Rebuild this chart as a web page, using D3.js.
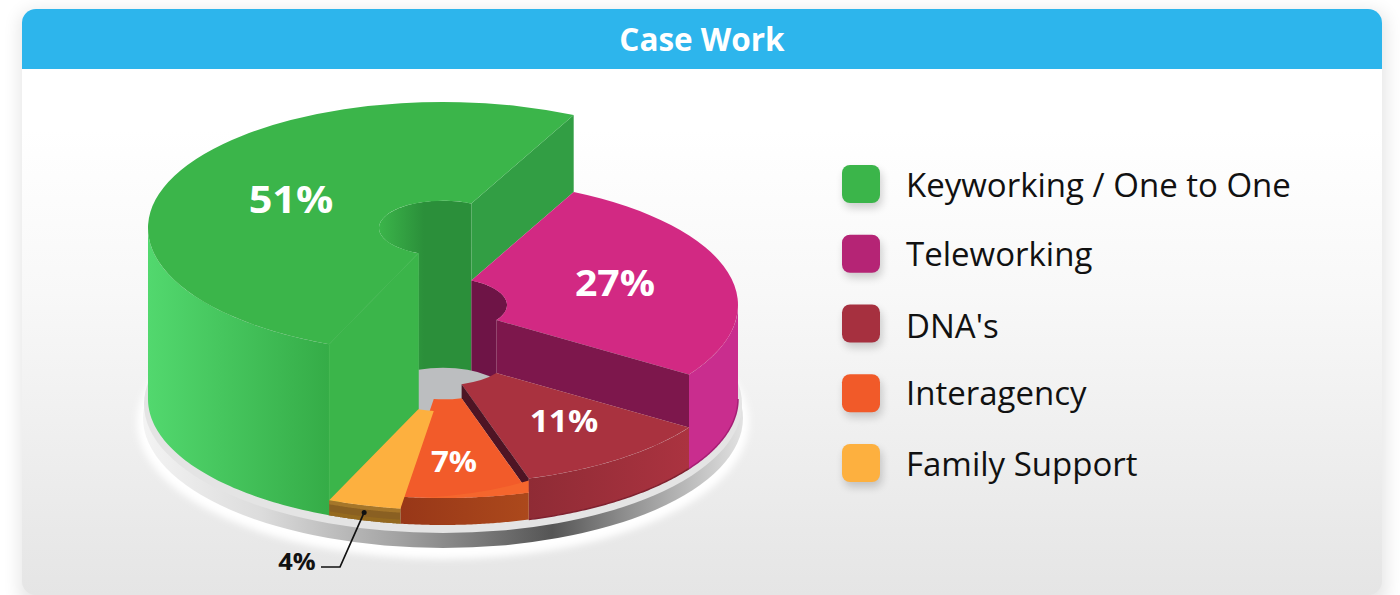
<!DOCTYPE html>
<html><head><meta charset="utf-8">
<script src="https://cdnjs.cloudflare.com/ajax/libs/d3/7.8.5/d3.min.js"></script>
<style>html,body{margin:0;padding:0;background:#fff;overflow:hidden}svg{display:block}text{font-family:"Open Sans",sans-serif}</style>
</head><body><svg id="c" width="1400" height="595"></svg>
<script>
const title = "Case Work";
const categories = ["Keyworking / One to One","Teleworking","DNA's","Interagency","Family Support"];
const values = [51,27,11,7,4];
const labels = ["51%","27%","11%","7%","4%"];
const legendColors = ["#3BB54A","#B52475","#A6303F","#F15A29","#FDB03F"];
const topColors = ["#3BB54A","#D22983","#A9323F","#F25B2A","#FDB03F"];
const wallColors = ["#329E44","#7D174C","#4E1424",null,null];
const sideStops = [["#52D86E","#35AC47"],["#C92D8E","#C92D8E"],["#8F2B35","#AB3340"],["#983718","#AC491C"],["#8A6022","#94681F"]];

const svg=d3.select("#c");
const defs=svg.append("defs");
const rad=d=>d*Math.PI/180;
const cx=443, baseY=399, R=295, r=64, tilt=0.4271;

const pie=d3.pie().sort(null).startAngle(rad(202.7)).endAngle(rad(562.7));
const arcs=pie(values);
const height=d3.scaleLinear().domain([4,7,11,27,51]).range([15,27,41,94,171]);
const topY=v=>baseY-height(v);
const px=(rad_,a)=>cx+rad_*Math.sin(a);
const py=(rad_,a,y)=>y-rad_*tilt*Math.cos(a);
const arcPts=(rad_,a0,a1,y)=>{const n=60;return d3.range(n+1).map(i=>{const a=a0+(a1-a0)*i/n;return [px(rad_,a),py(rad_,a,y)];});};
const line=d3.line();
const topArc=d3.arc().innerRadius(r).outerRadius(R);
function grad(id,stops,x1,x2){
  const g=defs.append("linearGradient").attr("id",id).attr("gradientUnits","userSpaceOnUse").attr("x1",x1).attr("x2",x2).attr("y1",0).attr("y2",0);
  stops.forEach(s=>g.append("stop").attr("offset",s[0]).attr("stop-color",s[1]));
}
const bg=defs.append("linearGradient").attr("id","cardBg").attr("gradientUnits","userSpaceOnUse").attr("x1",0).attr("x2",0).attr("y1",130).attr("y2",595);
[[0,"#ffffff"],[0.35,"#f8f8f8"],[1,"#e5e5e5"]].forEach(s=>bg.append("stop").attr("offset",s[0]).attr("stop-color",s[1]));
const blur=(id,sd)=>defs.append("filter").attr("id",id).attr("x","-30%").attr("y","-30%").attr("width","160%").attr("height","160%").append("feGaussianBlur").attr("stdDeviation",sd);
blur("b12",9);blur("b4",4);blur("b2",3.5);

const cardX=22,cardY=9,cardW=1360,cardH=596;
svg.append("rect").attr("x",cardX-2).attr("y",cardY+2).attr("width",cardW+6).attr("height",cardH).attr("rx",14).attr("fill","#000").attr("opacity",.1).attr("filter","url(#b12)");
svg.append("rect").attr("x",cardX).attr("y",cardY).attr("width",cardW).attr("height",cardH-10).attr("rx",14).attr("fill","url(#cardBg)");
svg.append("path").attr("fill","#2DB5EC").attr("d",`M${cardX},69V${cardY+14}a14,14 0 0 1 14,-14H${cardX+cardW-14}a14,14 0 0 1 14,14V69Z`);
svg.append("text").attr("x",702).attr("y",51).attr("text-anchor","middle").attr("fill","#fff").attr("font-weight",700).attr("font-size",31.5).text(title);

const ped=svg.append("g");
ped.append("ellipse").attr("cx",cx).attr("cy",422).attr("rx",306).attr("ry",137).attr("fill","#fff").attr("filter","url(#b2)");
grad("rim",[[0,"#f4f4f4"],[0.2,"#dcdcdc"],[0.42,"#a4a4a4"],[0.68,"#555"],[0.8,"#8e8e8e"],[1,"#e4e4e4"]],140,746);
ped.append("ellipse").attr("cx",cx).attr("cy",418).attr("rx",300).attr("ry",130).attr("fill","url(#rim)");
ped.append("ellipse").attr("cx",cx).attr("cy",404).attr("rx",299).attr("ry",129).attr("fill","#e4e4e4");

const holeY=baseY-4;
const g=svg.append("g");
const sidePath=(a0,a1,y)=>{
  const t=arcPts(R,a0,a1,y), b=arcPts(R,a1,a0,baseY);
  return line(t.concat(b))+"Z";
};
const [kw,tw,dn,ia,fs]=arcs;
const yOf=a=>topY(a.data);
const turn=2*Math.PI;

grad("s0",[[0,sideStops[0][0]],[1,sideStops[0][1]]],px(R,rad(270)),px(R,kw.startAngle));
g.append("path").attr("fill","url(#s0)").attr("d",sidePath(kw.startAngle,rad(270),yOf(kw)));

grad("hole0",[[0,"#3BB54A"],[1,"#2B8F3A"]],cx-r,cx-r+45);
g.append("path").attr("fill","url(#hole0)").attr("d",
  line(arcPts(r,kw.startAngle,kw.endAngle,yOf(kw)).concat([[px(r,kw.endAngle),holeY],[px(r,kw.startAngle),holeY]]))+"Z");
g.append("path").attr("fill","#6E1446").attr("d",
  line(arcPts(r,tw.startAngle,tw.endAngle,yOf(tw)).concat([[px(r,tw.endAngle),holeY],[px(r,tw.startAngle),holeY]]))+"Z");
g.append("ellipse").attr("cx",cx).attr("cy",holeY).attr("rx",r).attr("ry",r*tilt).attr("fill","#BCBEC0");

const radial=(a,yT,yB)=>line([[px(R,a),py(R,a,yT)],[px(R,a),py(R,a,yB)],[px(r,a),py(r,a,yB)],[px(r,a),py(r,a,yT)]])+"Z";
g.append("path").attr("fill",wallColors[0]).attr("d",radial(kw.endAngle,yOf(kw),yOf(tw)));
g.append("path").attr("fill",topColors[0]).attr("stroke",topColors[0]).attr("stroke-width",.8).attr("d",radial(kw.startAngle,yOf(kw),baseY));
g.append("path").attr("fill",topColors[0]).attr("transform",`translate(${cx},${yOf(kw)}) scale(1,${tilt})`).attr("d",topArc(kw));

function sideGrad(a,i){
  const xs=[px(R,a.startAngle),px(R,a.endAngle)];
  grad("s"+i,[[0,sideStops[i][0]],[1,sideStops[i][1]]],d3.min(xs),d3.max(xs));
}
const face=(a,i)=>g.append("path").attr("fill",topColors[i]).attr("transform",`translate(${cx},${yOf(a)}) scale(1,${tilt})`).attr("d",topArc(a));
// teleworking: only the part of its rim past the rightmost point faces the viewer
g.append("path").attr("fill","#C92D8E").attr("d",sidePath(rad(90)+turn,tw.endAngle,yOf(tw)));
g.append("path").attr("fill","none").attr("stroke","#A61E75").attr("stroke-width",1.5).attr("d",line(arcPts(R,rad(90)+turn,tw.endAngle,baseY)));
face(tw,1);
g.append("path").attr("fill",wallColors[1]).attr("d",radial(tw.endAngle,yOf(tw),yOf(dn)));
// dna
sideGrad(dn,2);
g.append("path").attr("fill","url(#s2)").attr("d",sidePath(dn.startAngle,dn.endAngle,yOf(dn)));
g.append("path").attr("fill","none").attr("stroke","#7F2230").attr("stroke-width",1.5).attr("d",line(arcPts(R,dn.startAngle,dn.endAngle,baseY)));
face(dn,2);
g.append("path").attr("fill",wallColors[2]).attr("d",radial(dn.endAngle,yOf(dn),yOf(ia)));
// interagency
sideGrad(ia,3);
g.append("path").attr("fill","url(#s3)").attr("d",sidePath(ia.startAngle,ia.endAngle,yOf(ia)));
face(ia,3);
// soft highlight along the front of the interagency top
const hiA=arcPts(R,ia.startAngle,ia.startAngle+(ia.endAngle-ia.startAngle)*.82,yOf(ia));
const hs=d3.path();hs.moveTo(hiA[0][0],hiA[0][1]);hiA.slice(1).forEach(p=>hs.lineTo(p[0],p[1]));
hs.quadraticCurveTo(hiA[0][0]-45,hiA[0][1]+2,hiA[0][0],hiA[0][1]-12);hs.closePath();
g.append("path").attr("fill","#F5662D").attr("d",hs.toString());
// family support
g.append("path").attr("fill","#8A6022").attr("d",sidePath(fs.startAngle,fs.endAngle,yOf(fs)));
g.append("path").attr("fill","#A5762A").attr("d",line(arcPts(R,fs.startAngle,fs.endAngle,yOf(fs)).concat(arcPts(R,fs.endAngle,fs.startAngle,yOf(fs)+4)))+"Z");
g.append("path").attr("fill","#94691F").attr("d",line(arcPts(R,fs.startAngle,fs.endAngle,baseY-4).concat(arcPts(R,fs.endAngle,fs.startAngle,baseY)))+"Z");
face(fs,4);

const stretch=1.12;
const valLabelPos=[[291,200,37],[615,283,35],[564,421,30],[454,462,28]];
svg.append("g").selectAll("text").data(labels.slice(0,4)).join("text")
 .attr("transform",(d,i)=>`translate(${valLabelPos[i][0]},${valLabelPos[i][1]}) scale(${stretch},1)`).attr("dy","0.36em")
 .attr("text-anchor","middle").attr("font-weight",700).attr("font-size",(d,i)=>valLabelPos[i][2]).attr("fill","#fff").text(d=>d);
const mid=(fs.startAngle+fs.endAngle)/2;
const dot=[px(R,mid),py(R,mid,yOf(fs))+7];
svg.append("circle").attr("cx",dot[0]).attr("cy",dot[1]).attr("r",2.5).attr("fill","#111");
svg.append("path").attr("fill","none").attr("stroke","#111").attr("stroke-width",1.7).attr("d",line([dot,[340,567],[321,567]]));
svg.append("text").attr("transform","translate(297,561) scale(1.06,1)").attr("dy","0.36em").attr("text-anchor","middle").attr("font-weight",700).attr("font-size",24).attr("fill","#111").text(labels[4]);

const legY=d3.scalePoint().domain(categories).range([165,444]);
const legendNudge=[1,0,2,0,1];
const leg=svg.append("g").selectAll("g").data(categories).join("g").attr("transform",d=>`translate(842,${legY(d)})`);
leg.append("rect").attr("x",2).attr("y",5).attr("width",38).attr("height",38).attr("rx",8).attr("fill","#000").attr("opacity",.18).attr("filter","url(#b4)");
leg.append("rect").attr("width",38).attr("height",38).attr("rx",8).attr("fill",(d,i)=>legendColors[i]);
leg.append("text").attr("x",64).attr("y",(d,i)=>31+legendNudge[i]).attr("font-size",33).attr("fill","#111").text(d=>d);
</script></body></html>
